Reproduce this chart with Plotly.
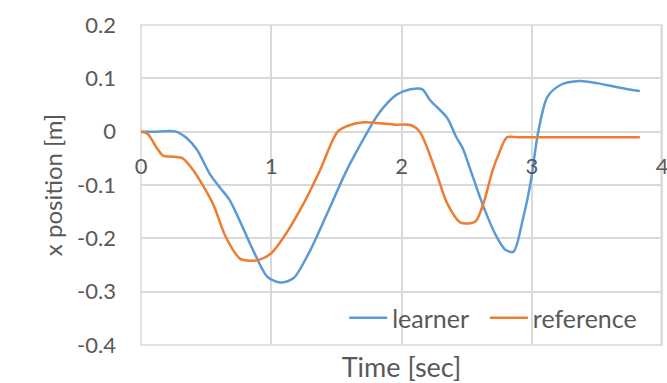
import plotly.graph_objects as go

# Data
t_learner = [0.0, 0.1, 0.2, 0.27, 0.35, 0.43, 0.53, 0.61, 0.68, 0.78, 0.86, 0.97, 1.07, 1.17,
             1.30, 1.43, 1.58, 1.74, 1.80, 1.86, 1.96, 2.07, 2.16, 2.22, 2.35, 2.42, 2.47,
             2.53, 2.63, 2.73, 2.80, 2.86, 2.93, 2.99, 3.05, 3.12, 3.22, 3.37, 3.50, 3.63, 3.75, 3.83]
x_learner = [0.0, 0.0, 0.001, 0.0, -0.012, -0.034, -0.080, -0.106, -0.128, -0.179, -0.222, -0.272, -0.283, -0.275,
             -0.222, -0.153, -0.072, 0.0, 0.025, 0.045, 0.069, 0.0795, 0.0795, 0.059, 0.026, -0.010, -0.031,
             -0.072, -0.141, -0.197, -0.222, -0.225, -0.166, -0.097, 0.0, 0.065, 0.0875, 0.095, 0.091, 0.0845, 0.079, 0.076]

t_reference = [0.0, 0.05, 0.12, 0.17, 0.25, 0.32, 0.40, 0.55, 0.65, 0.76, 0.84, 0.91, 1.00, 1.09, 1.25,
               1.375, 1.51, 1.60, 1.71, 1.83, 1.95, 2.07, 2.14, 2.26, 2.35, 2.45, 2.52, 2.57, 2.63,
               2.70, 2.75, 2.81, 2.90, 3.20, 3.50, 3.83]
x_reference = [0.0, -0.004, -0.030, -0.045, -0.047, -0.050, -0.072, -0.134, -0.197, -0.238, -0.242, -0.240, -0.228, -0.200, -0.134,
               -0.072, 0.0, 0.012, 0.0175, 0.016, 0.013, 0.0125, 0.0, -0.072, -0.134, -0.170, -0.172, -0.168, -0.134,
               -0.072, -0.040, -0.0105, -0.0105, -0.0105, -0.0105, -0.0105]

x_ticks = [0, 1, 2, 3, 4]
y_ticks = [0.2, 0.1, 0, -0.1, -0.2, -0.3, -0.4]
y_tick_labels = ["0.2", "0.1", "0", "-0.1", "-0.2", "-0.3", "-0.4"]

BLUE = "#5B9BD5"
ORANGE = "#ED7D31"
GRID = "#D9D9D9"
TEXT = "#595959"
FONT = "Lato"

fig = go.Figure()
fig.add_trace(go.Scatter(x=t_learner, y=x_learner, mode="lines", name="learner", legend="legend",
                         line=dict(color=BLUE, width=2.5, shape="spline", smoothing=0.8)))
fig.add_trace(go.Scatter(x=t_reference, y=x_reference, mode="lines", name="reference", legend="legend2",
                         line=dict(color=ORANGE, width=2.5, shape="spline", smoothing=0.8)))
# invisible helper trace on the bottom axis carrying the title
fig.add_trace(go.Scatter(x=[0, 4], y=[0, 0], xaxis="x2", mode="lines", line=dict(width=0),
                         showlegend=False, hoverinfo="skip", opacity=0))

legend_style = dict(orientation="h", xanchor="left", y=0.084, yanchor="middle",
                    bgcolor="rgba(0,0,0,0)", font=dict(size=25, color=TEXT), itemwidth=38)

fig.update_layout(
    width=667, height=383,
    margin=dict(l=141, r=5, t=25, b=38, autoexpand=False),
    paper_bgcolor="white", plot_bgcolor="white",
    font=dict(family=FONT, color=TEXT, size=22),
    showlegend=True,
    legend=dict(x=0.39, **legend_style),
    legend2=dict(x=0.66, **legend_style),
    xaxis=dict(range=[0, 4], tickvals=x_ticks, showgrid=True, gridcolor=GRID, gridwidth=1.5,
               zeroline=False, showline=False, anchor="free", position=2/3, automargin=False,
               ticks="", ticklabelstandoff=19, ticklabeloverflow="allow",
               tickfont=dict(size=22, color=TEXT)),
    xaxis2=dict(range=[0, 4], overlaying="x", anchor="y", side="bottom", showgrid=False,
                zeroline=False, showline=False, showticklabels=False, ticks="", automargin=False,
                title=dict(text="Time [sec]", font=dict(size=27, color=TEXT), standoff=13)),
    yaxis=dict(range=[-0.4, 0.2], tickvals=y_ticks, ticktext=y_tick_labels,
               showgrid=True, gridcolor=GRID, gridwidth=1.5, automargin=False,
               zeroline=False, showline=False,
               ticks="", ticklabelstandoff=24, tickfont=dict(size=22, color=TEXT),
               title=dict(text="x position [m]", font=dict(size=24, color=TEXT), standoff=7)),
    shapes=[dict(type="rect", xref="paper", yref="paper", x0=0, x1=1, y0=0, y1=1,
                 line=dict(color=GRID, width=1.5), layer="below"),
            dict(type="line", xref="paper", yref="paper", x0=0.999, x1=0.999, y0=0, y1=1,
                 line=dict(color=GRID, width=2), layer="below")],
)

# remove the browser's default page margin so the figure fills the 667x383 window exactly
fig.write_html("out.html", config={"displayModeBar": False},
               post_script="document.body.style.margin='0';document.body.style.overflow='hidden';")
